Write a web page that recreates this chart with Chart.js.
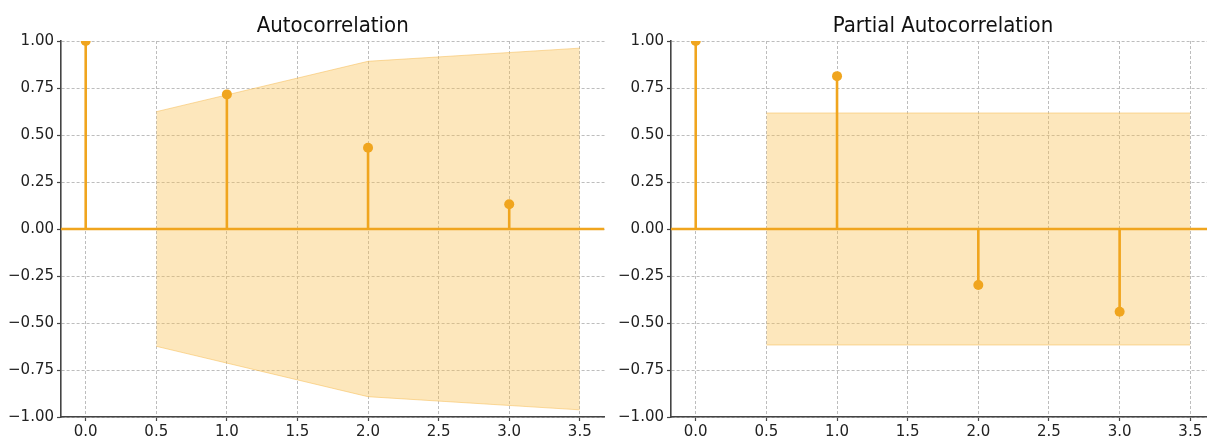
<!DOCTYPE html>
<html>
<head>
<meta charset="utf-8">
<script src="https://cdn.jsdelivr.net/npm/chart.js@4.4.1/dist/chart.umd.min.js"></script>
<style>
  html, body { margin: 0; padding: 0; background: #fff; overflow: hidden; }
  body { width: 1207px; height: 443px; position: relative; }
  canvas { position: absolute; top: 0; }
  #acf { left: 0; }
  #pacf { left: 610px; }
</style>
</head>
<body>
<canvas id="acf" width="610" height="443"></canvas>
<canvas id="pacf" width="610" height="443"></canvas>
<script>
// Correlogram data (lags 0..3)
const lags = [0, 1, 2, 3];
const acfValues = [1.0, 0.716, 0.432, 0.132];
const pacfValues = [1.0, 0.813, -0.298, -0.44];
// Half-widths of the confidence band at lags 1..3
const acfConf = [0.624, 0.892, 0.962];
const pacfConf = [0.617, 0.617, 0.617];
// Axis tick labels
const xTicks = [0.0, 0.5, 1.0, 1.5, 2.0, 2.5, 3.0, 3.5];
const yTicks = [-1.0, -0.75, -0.5, -0.25, 0.0, 0.25, 0.5, 0.75, 1.0];
const titles = ['Autocorrelation', 'Partial Autocorrelation'];

const STEM = '#F0A51E';
const BAND_FILL = 'rgba(251,192,80,0.38)';
const BAND_EDGE = 'rgba(245,190,90,0.55)';
const GRID = '#bdbdbd';
const SPINE = '#444';

function bandPoints(conf, sign) {
  // band runs from half a lag before the first lag to half a lag after the last one
  const xs = lags.slice(1);
  return xs.map((l, i) => {
    let x = l;
    if (i === 0) x = l - 0.5;
    if (i === xs.length - 1) x = l + 0.5;
    return { x: x, y: sign * conf[i] };
  });
}

function buildChart(canvasId, values, conf, title, rightPad) {
  const pad = 0.05 * (lags[lags.length - 1] + 0.5);
  const xMin = -pad;
  const xMax = lags[lags.length - 1] + 0.5 + pad;

  const datasets = [
    {
      data: bandPoints(conf, 1),
      borderColor: BAND_EDGE, borderWidth: 1, pointRadius: 0,
      fill: '+1', backgroundColor: BAND_FILL, tension: 0, order: 5
    },
    {
      data: bandPoints(conf, -1),
      borderColor: BAND_EDGE, borderWidth: 1, pointRadius: 0,
      fill: false, tension: 0, order: 5
    },
    {
      data: [{ x: xMin, y: 0 }, { x: xMax, y: 0 }],
      borderColor: STEM, borderWidth: 2.6, pointRadius: 0, fill: false, order: 2
    }
  ];
  lags.forEach((l, i) => {
    datasets.push({
      data: [{ x: l, y: 0 }, { x: l, y: values[i] }],
      borderColor: STEM, borderWidth: 2.6,
      pointRadius: [0, 5], pointHoverRadius: 0,
      pointBackgroundColor: STEM, pointBorderWidth: 0,
      fill: false, clip: 0, order: 1
    });
  });

  const titlePlugin = {
    id: 'panelTitle',
    afterDraw(chart) {
      const ctx = chart.ctx;
      const a = chart.chartArea;
      ctx.save();
      ctx.font = '22px "DejaVu Sans Condensed", "DejaVu Sans", sans-serif';
      ctx.fillStyle = '#111';
      ctx.textAlign = 'center';
      ctx.textBaseline = 'alphabetic';
      ctx.fillText(title, (a.left + a.right) / 2, 32);
      ctx.restore();
    }
  };

  const gridOpts = {
    color: GRID, lineWidth: 1, drawTicks: true, tickLength: 4,
    tickColor: SPINE, tickWidth: 1.2, tickBorderDash: []
  };
  const borderOpts = { display: true, color: SPINE, width: 1.6, dash: [3, 2] };

  return new Chart(document.getElementById(canvasId), {
    type: 'line',
    data: { datasets },
    plugins: [titlePlugin],
    options: {
      responsive: false,
      animation: false,
      devicePixelRatio: 1,
      events: [],
      layout: { padding: { top: 41, right: rightPad, left: 0, bottom: 0 } },
      plugins: { legend: { display: false }, tooltip: { enabled: false }, title: { display: false } },
      scales: {
        x: {
          type: 'linear', min: xMin, max: xMax,
          afterBuildTicks: s => { s.ticks = xTicks.map(v => ({ value: v })); },
          afterFit: s => { s.height = 26; },
          ticks: {
            callback: v => v.toFixed(1),
            color: '#222', padding: 2, maxRotation: 0, autoSkip: false,
            font: { family: 'DejaVu Sans', size: 15 }
          },
          grid: gridOpts,
          border: borderOpts
        },
        y: {
          type: 'linear', min: -1, max: 1,
          afterBuildTicks: s => { s.ticks = yTicks.map(v => ({ value: v })); },
          afterFit: s => { s.width = 61; },
          ticks: {
            callback: v => (v < 0 ? '\u2212' : '') + Math.abs(v).toFixed(2),
            color: '#222', padding: 3, autoSkip: false,
            font: { family: 'DejaVu Sans', size: 15 }
          },
          grid: gridOpts,
          border: borderOpts
        }
      }
    }
  });
}

buildChart('acf', acfValues, acfConf, titles[0], 5.5);
buildChart('pacf', pacfValues, pacfConf, titles[1], 0);
</script>
</body>
</html>
